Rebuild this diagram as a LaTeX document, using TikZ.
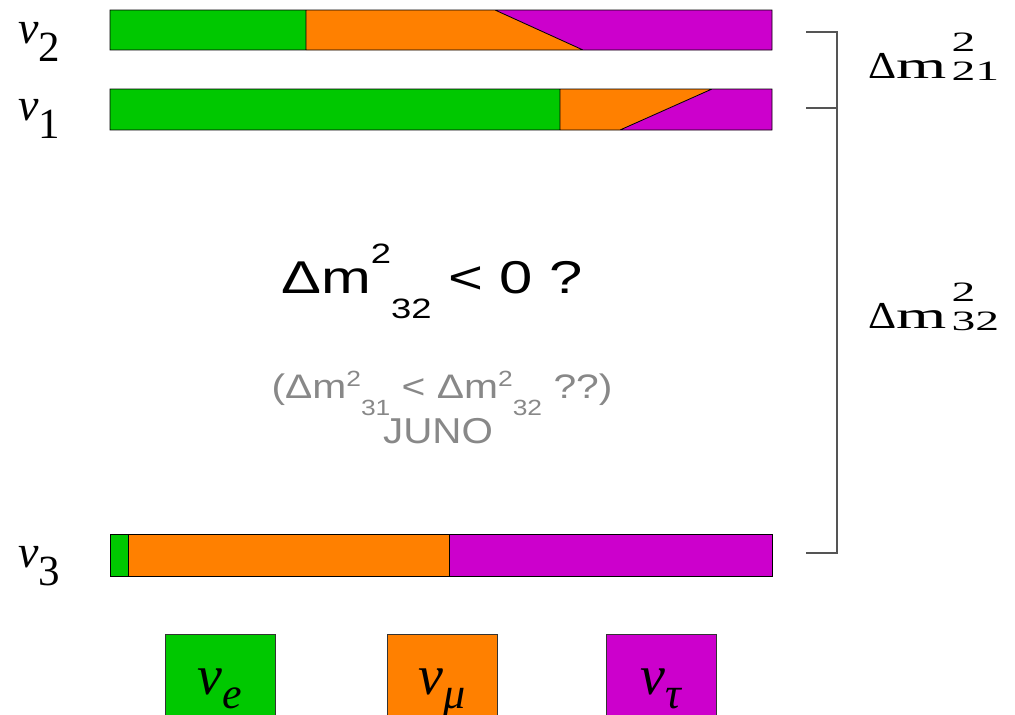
\documentclass[tikz,border=0pt]{standalone}
\usepackage{fontspec}
\usepackage{xcolor}
\setmainfont{Liberation Serif}
\newfontfamily\arialfont{Liberation Sans}

\definecolor{nugreen}{RGB}{0,200,0}
\definecolor{numu}{RGB}{255,128,0}
\definecolor{nutau}{RGB}{204,0,204}
\definecolor{junogray}{RGB}{136,136,136}
\definecolor{brackgray}{RGB}{85,85,85}

\newcommand{\nusym}[1]{{\itshape ν}\raisebox{-18pt}{\fontsize{43}{43}\selectfont #1}}
\newcommand{\nuflav}[1]{{\itshape ν}\raisebox{-14pt}{\fontsize{44}{44}\selectfont\itshape #1}}
\newcommand{\dmright}[1]{\scalebox{1.15}[1]{Δ}\scalebox{1.7}[1]{m\hspace{3pt}\rlap{\raisebox{27pt}{\fontsize{28}{28}\selectfont 2}}\raisebox{-2pt}{\fontsize{28}{28}\selectfont #1}}}

\begin{document}
\begin{tikzpicture}[x=1pt, y=-1pt,
    barline/.style={draw=black, line width=0.8pt},
    bracket/.style={draw=brackgray, line width=1.5pt},
    nulab/.style={anchor=base west, inner sep=0pt, font=\fontsize{46}{46}\selectfont},
    dmlab/.style={anchor=base west, inner sep=0pt, font=\fontsize{38}{38}\selectfont},
    legbox/.style={draw=black!80, line width=1pt, anchor=north, inner sep=0pt,
        minimum width=110pt, minimum height=92pt, text height=28pt, text depth=0pt,
        font=\fontsize{56}{56}\selectfont}]
\clip (0,0) rectangle (1015,715);

% nu_2 bar
\fill[nugreen] (110,10) rectangle (306,50);
\fill[numu] (306,10) -- (495,10) -- (583,50) -- (306,50) -- cycle;
\fill[nutau] (495,10) -- (772,10) -- (772,50) -- (583,50) -- cycle;
\draw[barline] (110,10) rectangle (772,50) (306,10) -- (306,50) (495,10) -- (583,50);

% nu_1 bar
\fill[nugreen] (110,89) rectangle (560,130);
\fill[numu] (560,89) -- (712,89) -- (620,130) -- (560,130) -- cycle;
\fill[nutau] (712,89) -- (772,89) -- (772,130) -- (620,130) -- cycle;
\draw[barline] (110,89) rectangle (772,130) (560,89) -- (560,130) (712,89) -- (620,130);

% nu_3 bar
\fill[nugreen] (110,534) rectangle (128,576);
\fill[numu] (128,534) rectangle (449,576);
\fill[nutau] (449,534) rectangle (772,576);
\draw[barline] (110,534) rectangle (772,576) (128,534) -- (128,576) (449,534) -- (449,576);

% mass eigenstates
\node[nulab] (nu2) at (18,43) {\nusym{2}};
\node[nulab] (nu1) at (18,120) {\nusym{1}};
\node[nulab] (nu3) at (18,567) {\nusym{3}};

% splittings
\coordinate (b2) at (806,32);
\coordinate (b1) at (806,108);
\coordinate (b3) at (806,553);
\coordinate (brx) at (837,0);
\draw[bracket] (b2) -- (b2 -| brx) -- (b3 -| brx) -- (b3);
\draw[bracket] (b1) -- (b1 -| brx);
\node[dmlab] (dm21) at (868,78) {\dmright{21}};
\node[dmlab] (dm32) at (868,328) {\dmright{32}};

% ordering question
\node[anchor=base, inner sep=0pt, font=\arialfont\fontsize{46}{46}\selectfont] (ineq) at (432,293)
    {\scalebox{1.3}[1]{Δm\raisebox{30pt}{\fontsize{28}{28}\selectfont 2}\raisebox{-25pt}{\fontsize{28}{28}\selectfont 32} < 0 ?}};
\node[anchor=base, inner sep=0pt, text=junogray, font=\arialfont\fontsize{34}{34}\selectfont] (ineqb) at (442,398)
    {\scalebox{1.2}[1]{(Δm\raisebox{12pt}{\fontsize{22}{22}\selectfont 2}\raisebox{-17pt}{\fontsize{22}{22}\selectfont 31} < Δm\raisebox{12pt}{\fontsize{22}{22}\selectfont 2}\raisebox{-17pt}{\fontsize{22}{22}\selectfont 32} ??)}};
\node[anchor=base, inner sep=0pt, text=junogray, font=\arialfont\fontsize{36}{36}\selectfont] (juno) at (438,443)
    {\scalebox{1.12}[1]{JUNO}};

% flavour legend
\node[legbox, fill=nugreen] (lege) at (220,634) {\nuflav{e}};
\node[legbox, fill=numu] (legmu) at (442,634) {\nuflav{μ}};
\node[legbox, fill=nutau] (legtau) at (661,634) {\nuflav{τ}};
\end{tikzpicture}
\end{document}
